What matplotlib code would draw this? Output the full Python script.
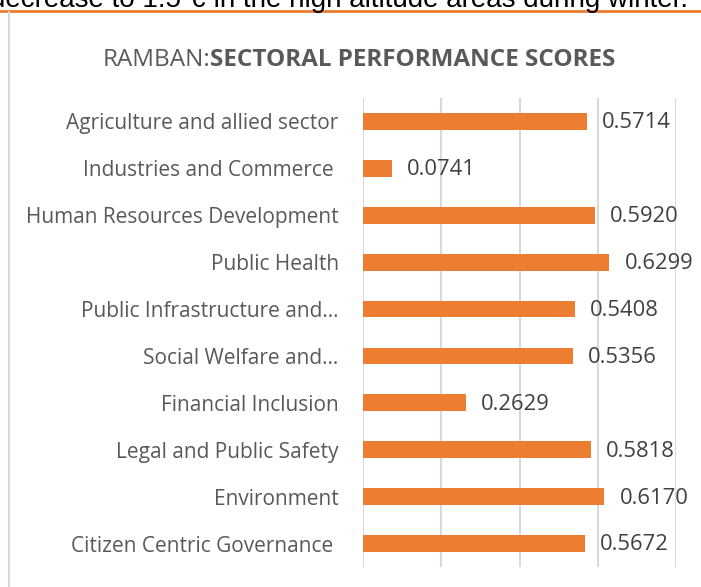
import matplotlib.pyplot as plt
from matplotlib.lines import Line2D

sectors = ['Agriculture and allied sector', 'Industries and Commerce ',
           'Human Resources Development', 'Public Health',
           'Public Infrastructure and…', 'Social Welfare and…',
           'Financial Inclusion', 'Legal and Public Safety', 'Environment',
           'Citizen Centric Governance ']
scores = [0.5714, 0.0741, 0.5920, 0.6299, 0.5408, 0.5356, 0.2629, 0.5818,
          0.6170, 0.5672]

orange = '#ED7D31'
font = ['Open Sans', 'DejaVu Sans']

fig = plt.figure(figsize=(7.01, 5.87), dpi=100)
W, H = 701, 587

# text line of the page above the chart, cut by the top edge
fig.text(-10 / W, 1 - 7 / H, 'decrease to 1.5°c in the high altitude areas during winter.',
         fontsize=20, family='Liberation Sans', color='black', va='baseline')
fig.add_artist(Line2D([0, 1], [1 - 11 / H] * 2, color=orange, lw=2))
fig.add_artist(Line2D([9 / W] * 2, [0, 1 - 12 / H], color='#D9D9D9', lw=1.5))

ax = fig.add_axes([363 / W, 1 - 567 / H, 313 / W, 469 / H])
pos = list(range(len(sectors)))
ax.barh(pos, scores, height=0.36, color=orange, zorder=2)
ax.set_ylim(len(sectors) - 0.5, -0.5)
ax.set_xlim(0, 0.8)
ax.set_xticks([0, 0.2, 0.4, 0.6, 0.8])
ax.xaxis.grid(True, color='#D9D9D9', lw=1.5, zorder=0)
ax.tick_params(axis='x', bottom=False, labelbottom=False)
ax.tick_params(axis='y', left=False, pad=14)
ax.set_yticks(pos)
ax.set_yticklabels(sectors, fontsize=15, family=font, color='#595959')
for s in ax.spines.values():
    s.set_visible(False)

for p, v in zip(pos, scores):
    ax.annotate(f'{v:.4f}', (v, p), xytext=(11, -1), textcoords='offset points',
                va='center', ha='left', fontsize=15.8, family=font, color='#404040')

# title with the second part in bold, centred over the figure
ty = 1 - 60 / H
t1 = fig.text(0, ty, 'RAMBAN:', fontsize=17.5, family=font,
              color='#595959', va='center')
t2 = fig.text(0, ty, 'SECTORAL PERFORMANCE SCORES', fontsize=17.5,
              family=font, weight='bold', color='#595959', va='center')
fig.canvas.draw()
w1 = t1.get_window_extent().width
w2 = t2.get_window_extent().width
x0 = 359 - (w1 + w2) / 2
t1.set_x(x0 / W)
t2.set_x((x0 + w1) / W)

fig.savefig('out.png', dpi=100)
